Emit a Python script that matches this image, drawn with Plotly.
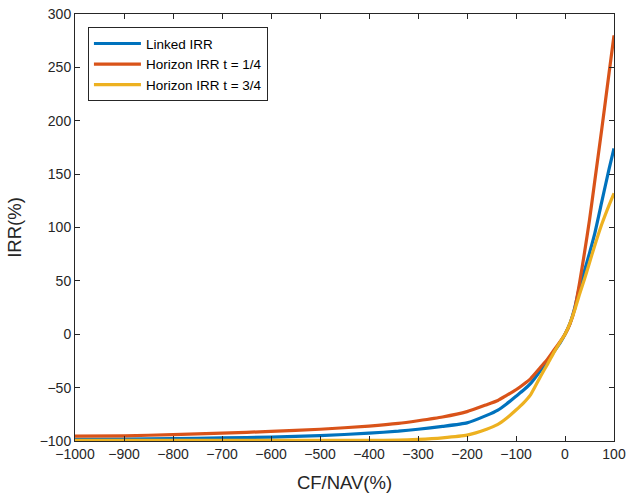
import plotly.graph_objects as go

cf = [-1000, -900, -800, -700, -600, -500, -400, -340, -300, -250, -200, -160,
      -137, -120, -100, -85, -70, -50, -35, -22, -10, 0, 10, 20, 30, 40, 50,
      60, 75, 90, 100]

linked_irr = [-98.5, -98.3, -97.8, -97.1, -96.3, -95.0, -92.7, -90.8, -89.0, -86.3,
              -83.0, -76.0, -71.0, -65.5, -58.0, -52.5, -46.0, -34.0, -25.0, -16.0,
              -8.0, 0.0, 10.0, 25.0, 45.0, 60.0, 76.0, 93.0, 124.0, 155.0, 174.0]

horizon_q1 = [-95.5, -95.2, -94.0, -92.7, -91.0, -89.0, -86.0, -83.5, -81.0, -77.5,
              -72.5, -66.0, -62.0, -57.5, -52.0, -47.0, -41.5, -31.0, -23.0, -14.5,
              -7.0, 0.0, 9.5, 24.0, 49.0, 77.0, 107.0, 141.0, 192.0, 245.0, 280.0]

horizon_q3 = [-99.3, -99.3, -99.3, -99.3, -99.3, -99.3, -99.3, -99.2, -98.5, -97.0,
              -94.5, -89.0, -84.5, -79.0, -71.0, -64.5, -56.5, -39.5, -27.5, -16.5,
              -7.5, 0.0, 10.0, 23.0, 38.0, 52.0, 67.0, 82.0, 103.0, 121.0, 132.0]

series_names = ["Linked IRR", "Horizon IRR t = 1/4", "Horizon IRR t = 3/4"]
series_colors = ["#0072BD", "#D95319", "#EDB120"]

x_ticks = list(range(-1000, 101, 100))
y_ticks = list(range(-100, 301, 50))

FONT = "Liberation Sans, Arial, Helvetica, sans-serif"
INK = "#262626"

fig = go.Figure()
for name, vals, col in zip(series_names, [linked_irr, horizon_q1, horizon_q3], series_colors):
    fig.add_trace(go.Scatter(x=cf, y=vals, mode="lines", name=name,
                             line=dict(color=col, width=3.2, shape="spline", smoothing=0.5)))

axis_common = dict(showgrid=False, zeroline=False, showline=True, mirror="ticks",
                   linecolor=INK, linewidth=1, ticks="inside", ticklen=5,
                   tickcolor=INK, ticklabeloverflow="allow", automargin=False,
                   tickfont=dict(family=FONT, size=14, color=INK))

fig.update_layout(
    width=626, height=495,
    margin=dict(l=75, r=12, t=14, b=54),
    paper_bgcolor="white", plot_bgcolor="white",
    font=dict(family=FONT, size=14, color=INK),
    xaxis=dict(range=[-1000, 100], tickvals=x_ticks,
               title=dict(text="CF/NAV(%)", font=dict(family=FONT, size=18.5, color=INK), standoff=15),
               **axis_common),
    yaxis=dict(range=[-100, 300], tickvals=y_ticks,
               title=dict(text="IRR(%)", font=dict(family=FONT, size=18.5, color=INK), standoff=13),
               **axis_common),
    legend=dict(x=0.024, y=0.969, xanchor="left", yanchor="top",
                bgcolor="white", bordercolor=INK, borderwidth=1,
                font=dict(family=FONT, size=13.5, color="#000000"),
                tracegroupgap=0, itemwidth=47),
    showlegend=True,
)

# remove the default page margin so the figure sits at the window origin
fig.write_html("out.html", config={"displayModeBar": False},
               post_script="document.body.style.margin='0px';")
